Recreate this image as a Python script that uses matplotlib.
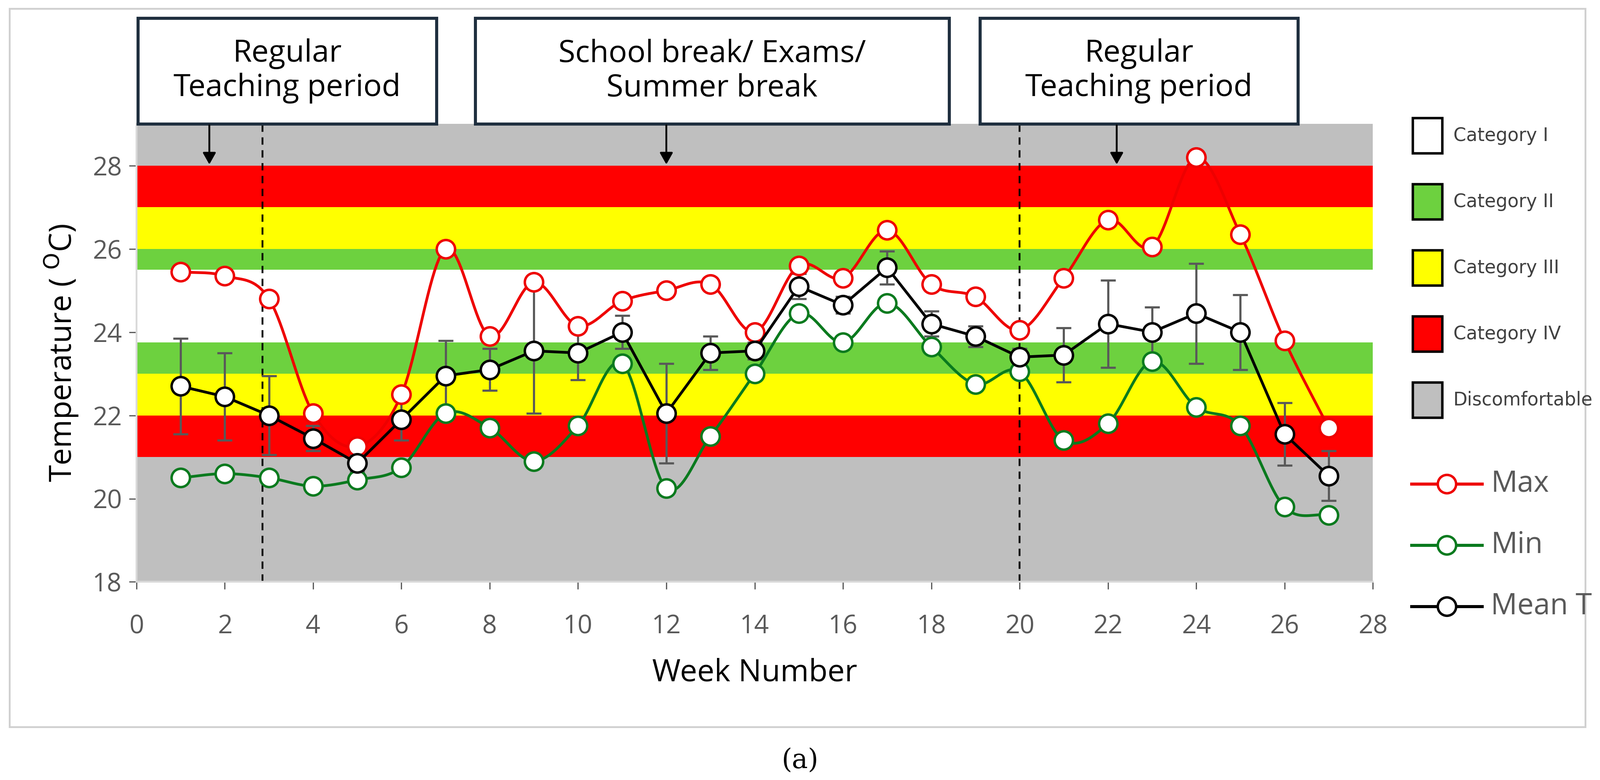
import numpy as np
import matplotlib
matplotlib.use("Agg")
import matplotlib.pyplot as plt
from matplotlib.patches import Rectangle
from matplotlib.lines import Line2D

plt.rcParams["font.family"] = ["Open Sans", "DejaVu Sans"]

# Data
weeks = np.arange(1, 28)
t_max = [25.45, 25.35, 24.8, 22.05, 21.25, 22.5, 26.0, 23.9, 25.2, 24.15, 24.75, 25.0, 25.15, 24.0,
         25.6, 25.3, 26.45, 25.15, 24.85, 24.05, 25.3, 26.7, 26.05, 28.2, 26.35, 23.8, 21.7]
t_min = [20.5, 20.6, 20.5, 20.3, 20.45, 20.75, 22.05, 21.7, 20.9, 21.75, 23.25, 20.25, 21.5, 23.0,
         24.45, 23.75, 24.7, 23.65, 22.75, 23.05, 21.4, 21.8, 23.3, 22.2, 21.75, 19.8, 19.6]
t_mean = [22.7, 22.45, 22.0, 21.45, 20.85, 21.9, 22.95, 23.1, 23.55, 23.5, 24.0, 22.05, 23.5, 23.55,
          25.1, 24.65, 25.55, 24.2, 23.9, 23.4, 23.45, 24.2, 24.0, 24.45, 24.0, 21.55, 20.55]
t_err = [1.15, 1.05, 0.95, 0.3, 0.2, 0.5, 0.85, 0.5, 1.5, 0.65, 0.4, 1.2, 0.4, 0.2,
         0.3, 0.2, 0.4, 0.3, 0.25, 0.2, 0.65, 1.05, 0.6, 1.2, 0.9, 0.75, 0.6]

# comfort bands (lower, upper, colour)
bands = [(18, 21, "#bfbfbf"), (21, 22, "#ff0000"), (22, 23, "#ffff00"), (23, 23.75, "#6dd13f"),
         (23.75, 25.5, "#ffffff"), (25.5, 26, "#6dd13f"), (26, 27, "#ffff00"), (27, 28, "#ff0000"),
         (28, 29, "#bfbfbf")]
cat_labels = ["Category I", "Category II", "Category III", "Category IV", "Discomfortable"]
cat_colors = ["#ffffff", "#6dd13f", "#ffff00", "#ff0000", "#bfbfbf"]
periods = [("Regular\nTeaching period", 0.03, 6.79, 1.65),
           ("School break/ Exams/\nSummer break", 7.67, 18.4, 12.0),
           ("Regular\nTeaching period", 19.1, 26.3, 22.2)]
dash_x = [2.85, 20.0]


def smooth(x, y, n=20):
    # Catmull-Rom curve through the points (Excel-like smoothed line)
    x = np.asarray(x, float); y = np.asarray(y, float)
    px = np.concatenate([[2 * x[0] - x[1]], x, [2 * x[-1] - x[-2]]])
    py = np.concatenate([[2 * y[0] - y[1]], y, [2 * y[-1] - y[-2]]])
    xs, ys = [], []
    t = np.linspace(0, 1, n, endpoint=False)
    for i in range(1, len(px) - 2):
        for p, out in ((px, xs), (py, ys)):
            p0, p1, p2, p3 = p[i - 1], p[i], p[i + 1], p[i + 2]
            out.extend(0.5 * (2 * p1 + (-p0 + p2) * t + (2 * p0 - 5 * p1 + 4 * p2 - p3) * t ** 2
                              + (-p0 + 3 * p1 - 3 * p2 + p3) * t ** 3))
    xs.append(x[-1]); ys.append(y[-1])
    return xs, ys


fig = plt.figure(figsize=(36.33, 17.70), dpi=100)
ax = fig.add_axes([0.0853, 0.254, 0.7727, 0.587])

for lo, hi, c in bands:
    ax.axhspan(lo, hi, color=c, lw=0, zorder=0)
for xd in dash_x:
    ax.plot([xd, xd], [18, 29], color="black", ls=(0, (4, 3)), lw=3, zorder=2)

ms = 30
lw = 4.5
ax.errorbar(weeks, t_mean, yerr=t_err, fmt="none", ecolor="#595959", elinewidth=3.5, capsize=12,
            capthick=3.5, zorder=3)
xs, ys = smooth(weeks, t_max)
ax.plot(xs, ys, color="#ee0000", lw=lw, zorder=4)
ax.plot(weeks, t_max, "o", ms=ms, mfc="white", mec="#ee0000", mew=4, zorder=5)
xs, ys = smooth(weeks, t_min)
ax.plot(xs, ys, color="#0a7a1e", lw=lw, zorder=4)
ax.plot(weeks, t_min, "o", ms=ms, mfc="white", mec="#0a7a1e", mew=4, zorder=5)
ax.plot(weeks, t_mean, "-o", color="black", lw=lw, ms=ms, mfc="white", mec="black", mew=4, zorder=6)

ax.set_xlim(0, 28)
ax.set_ylim(18, 29)
ax.set_xticks(range(0, 29, 2))
ax.set_yticks(range(18, 29, 2))
ax.tick_params(labelsize=42, colors="#595959", length=12, width=2, pad=12)
ax.tick_params(axis="x", pad=40)
for s in ["top", "right"]:
    ax.spines[s].set_visible(False)
for s in ["left", "bottom"]:
    ax.spines[s].set_color("#d9d9d9")
    ax.spines[s].set_linewidth(3)
ax.set_xlabel("Week Number", fontsize=50, labelpad=30)
ax.set_ylabel("Temperature ( $^\\mathrm{O}$C)", fontsize=50, labelpad=20)

# period boxes with arrows
for text, x0, x1, xa in periods:
    ax.add_patch(Rectangle((x0, 29.0), x1 - x0, 2.55, fc="white", ec="#1f2f3f", lw=5,
                           clip_on=False, zorder=7))
    ax.text((x0 + x1) / 2, 30.27, text, ha="center", va="center", fontsize=50,
            linespacing=1.15, zorder=8, clip_on=False)
    ax.annotate("", xy=(xa, 28.0), xytext=(xa, 29.0),
                arrowprops=dict(arrowstyle="-|>,head_width=0.9,head_length=1.6", color="black", lw=3),
                zorder=8, annotation_clip=False)

# legend for categories
W, H = 3633, 1770
for i, (lab, c) in enumerate(zip(cat_labels, cat_colors)):
    yc = 308 + i * 150
    fig.add_artist(Rectangle((3208 / W, 1 - (yc + 40) / H), 67 / W, 80 / H, fc=c, ec="black",
                             lw=4, transform=fig.transFigure))
    fig.text(3300 / W, 1 - yc / H, lab, fontsize=30, va="center", color="#404040",
             family=["Liberation Sans Narrow", "DejaVu Sans"])

# legend for series
for i, (lab, c) in enumerate([("Max", "#ee0000"), ("Min", "#0a7a1e"), ("Mean T", "black")]):
    yc = 1 - (1098 + i * 139) / H
    fig.add_artist(Line2D([3205 / W, 3365 / W], [yc, yc], color=c, lw=5,
                          transform=fig.transFigure))
    fig.add_artist(Line2D([3285 / W], [yc], marker="o", ms=30, mfc="white", mec=c, mew=4,
                          transform=fig.transFigure))
    fig.text(3385 / W, yc, lab, fontsize=48, va="center", color="#595959")

# outer frame and caption
fig.add_artist(Rectangle((22 / W, 1 - 1650 / H), 3578 / W, 1630 / H, fill=False, ec="#d0d0d0",
                         lw=3, transform=fig.transFigure))
fig.text(0.5, 1 - 1725 / H, "(a)", ha="center", va="center", fontsize=44,
         family=["DejaVu Serif"])
fig.text(0.5 - 0.011, 1 - 1725 / H, "", fontsize=44)

fig.savefig("out.png", dpi=100, facecolor="white")
